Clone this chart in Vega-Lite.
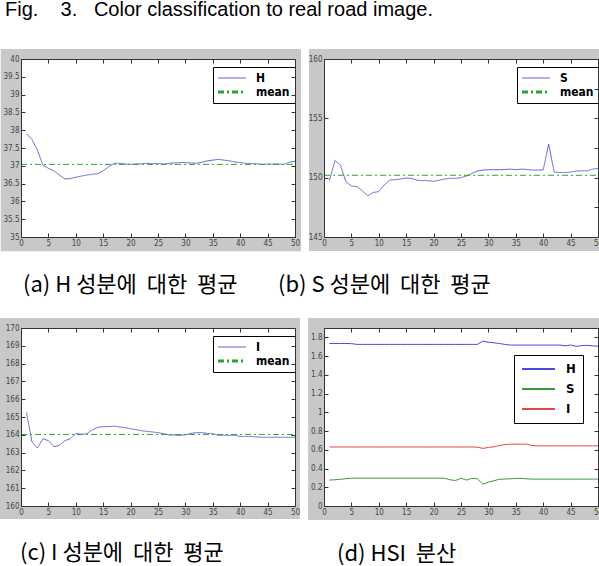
{
"$schema": "https://vega.github.io/schema/vega-lite/v6.json",
"padding": 0,
"background": "white",
"title": {"text": "Fig.\u00a0\u00a0\u00a0 3.\u00a0\u00a0 Color classification to real road image.", "anchor": "start", "frame": "bounds", "dx": 5, "offset": 29, "fontSize": 20, "font": "Liberation Sans", "fontWeight": "normal", "color": "black"},
"columns": 2,
"spacing": {"column": 29, "row": 91},
"bounds": "flush",
"resolve": {"scale": {"color": "independent", "strokeDash": "independent"}, "legend": {"color": "independent", "strokeDash": "independent"}},
"datasets": {
"a": [{"x":1,"H":37.9},{"x":2,"H":37.74},{"x":3,"H":37.44},{"x":4,"H":37.02},{"x":5,"H":36.93},{"x":6,"H":36.86},{"x":7,"H":36.74},{"x":8,"H":36.63},{"x":9,"H":36.64},{"x":10,"H":36.68},{"x":11,"H":36.71},{"x":12,"H":36.74},{"x":13,"H":36.76},{"x":14,"H":36.78},{"x":15,"H":36.86},{"x":16,"H":36.97},{"x":17,"H":37.07},{"x":18,"H":37.07},{"x":19,"H":37.05},{"x":20,"H":37.04},{"x":21,"H":37.05},{"x":22,"H":37.06},{"x":23,"H":37.07},{"x":24,"H":37.06},{"x":25,"H":37.06},{"x":26,"H":37.05},{"x":27,"H":37.07},{"x":28,"H":37.08},{"x":29,"H":37.09},{"x":30,"H":37.09},{"x":31,"H":37.08},{"x":32,"H":37.07},{"x":33,"H":37.1},{"x":34,"H":37.14},{"x":35,"H":37.16},{"x":36,"H":37.18},{"x":37,"H":37.16},{"x":38,"H":37.14},{"x":39,"H":37.11},{"x":40,"H":37.09},{"x":41,"H":37.07},{"x":42,"H":37.06},{"x":43,"H":37.06},{"x":44,"H":37.04},{"x":45,"H":37.05},{"x":46,"H":37.05},{"x":47,"H":37.05},{"x":48,"H":37.04},{"x":49,"H":37.1},{"x":50,"H":37.13},{"x":0,"mean":37.04},{"x":50,"mean":37.04}],
"b": [{"x":1,"S":149.8},{"x":2,"S":151.44},{"x":3,"S":151.06},{"x":4,"S":149.67},{"x":5,"S":149.3},{"x":6,"S":149.25},{"x":7,"S":148.89},{"x":8,"S":148.47},{"x":9,"S":148.75},{"x":10,"S":148.83},{"x":11,"S":149.39},{"x":12,"S":149.8},{"x":13,"S":149.83},{"x":14,"S":149.89},{"x":15,"S":149.97},{"x":16,"S":149.94},{"x":17,"S":149.78},{"x":18,"S":149.75},{"x":19,"S":149.75},{"x":20,"S":149.69},{"x":21,"S":149.78},{"x":22,"S":149.89},{"x":23,"S":149.94},{"x":24,"S":149.94},{"x":25,"S":150.0},{"x":26,"S":150.14},{"x":27,"S":150.36},{"x":28,"S":150.56},{"x":29,"S":150.64},{"x":30,"S":150.67},{"x":31,"S":150.67},{"x":32,"S":150.67},{"x":33,"S":150.69},{"x":34,"S":150.72},{"x":35,"S":150.67},{"x":36,"S":150.72},{"x":37,"S":150.69},{"x":38,"S":150.64},{"x":39,"S":150.64},{"x":40,"S":150.64},{"x":41,"S":152.83},{"x":42,"S":150.47},{"x":43,"S":150.44},{"x":44,"S":150.44},{"x":45,"S":150.47},{"x":46,"S":150.56},{"x":47,"S":150.58},{"x":48,"S":150.58},{"x":49,"S":150.72},{"x":50,"S":150.78},{"x":0,"mean":150.2},{"x":50,"mean":150.2}],
"c": [{"x":1,"I":165.25},{"x":2,"I":163.6},{"x":3,"I":163.26},{"x":4,"I":163.78},{"x":5,"I":163.67},{"x":6,"I":163.33},{"x":7,"I":163.41},{"x":8,"I":163.67},{"x":9,"I":163.78},{"x":10,"I":164.08},{"x":11,"I":164.03},{"x":12,"I":164.06},{"x":13,"I":164.27},{"x":14,"I":164.42},{"x":15,"I":164.46},{"x":16,"I":164.46},{"x":17,"I":164.49},{"x":18,"I":164.44},{"x":19,"I":164.4},{"x":20,"I":164.34},{"x":21,"I":164.29},{"x":22,"I":164.23},{"x":23,"I":164.19},{"x":24,"I":164.16},{"x":25,"I":164.12},{"x":26,"I":164.06},{"x":27,"I":163.99},{"x":28,"I":163.99},{"x":29,"I":163.97},{"x":30,"I":164.0},{"x":31,"I":164.08},{"x":32,"I":164.12},{"x":33,"I":164.12},{"x":34,"I":164.08},{"x":35,"I":164.06},{"x":36,"I":163.97},{"x":37,"I":163.97},{"x":38,"I":163.97},{"x":39,"I":163.97},{"x":40,"I":163.91},{"x":41,"I":163.91},{"x":42,"I":163.91},{"x":43,"I":163.88},{"x":44,"I":163.86},{"x":45,"I":163.86},{"x":46,"I":163.86},{"x":47,"I":163.86},{"x":48,"I":163.86},{"x":49,"I":163.86},{"x":50,"I":163.86},{"x":0,"mean":164.02},{"x":50,"mean":164.02}],
"d": [{"x":1,"H":1.735,"S":0.277,"I":0.63},{"x":2,"H":1.735,"S":0.28,"I":0.63},{"x":3,"H":1.735,"S":0.285,"I":0.63},{"x":4,"H":1.735,"S":0.292,"I":0.63},{"x":5,"H":1.733,"S":0.297,"I":0.63},{"x":6,"H":1.725,"S":0.297,"I":0.63},{"x":7,"H":1.725,"S":0.297,"I":0.63},{"x":8,"H":1.725,"S":0.297,"I":0.63},{"x":9,"H":1.725,"S":0.297,"I":0.63},{"x":10,"H":1.725,"S":0.297,"I":0.63},{"x":11,"H":1.725,"S":0.297,"I":0.63},{"x":12,"H":1.725,"S":0.297,"I":0.63},{"x":13,"H":1.725,"S":0.297,"I":0.63},{"x":14,"H":1.725,"S":0.297,"I":0.63},{"x":15,"H":1.725,"S":0.297,"I":0.63},{"x":16,"H":1.725,"S":0.297,"I":0.63},{"x":17,"H":1.725,"S":0.297,"I":0.63},{"x":18,"H":1.725,"S":0.297,"I":0.63},{"x":19,"H":1.725,"S":0.297,"I":0.63},{"x":20,"H":1.725,"S":0.297,"I":0.63},{"x":21,"H":1.725,"S":0.297,"I":0.63},{"x":22,"H":1.725,"S":0.297,"I":0.63},{"x":23,"H":1.725,"S":0.28,"I":0.63},{"x":24,"H":1.725,"S":0.272,"I":0.63},{"x":25,"H":1.725,"S":0.297,"I":0.63},{"x":26,"H":1.725,"S":0.277,"I":0.63},{"x":27,"H":1.725,"S":0.295,"I":0.63},{"x":28,"H":1.725,"S":0.29,"I":0.628},{"x":29,"H":1.76,"S":0.232,"I":0.615},{"x":30,"H":1.748,"S":0.255,"I":0.625},{"x":31,"H":1.742,"S":0.27,"I":0.632},{"x":32,"H":1.735,"S":0.285,"I":0.645},{"x":33,"H":1.725,"S":0.288,"I":0.655},{"x":34,"H":1.718,"S":0.29,"I":0.66},{"x":35,"H":1.718,"S":0.295,"I":0.66},{"x":36,"H":1.718,"S":0.295,"I":0.66},{"x":37,"H":1.718,"S":0.29,"I":0.66},{"x":38,"H":1.718,"S":0.287,"I":0.645},{"x":39,"H":1.718,"S":0.287,"I":0.642},{"x":40,"H":1.718,"S":0.287,"I":0.642},{"x":41,"H":1.718,"S":0.287,"I":0.642},{"x":42,"H":1.718,"S":0.287,"I":0.642},{"x":43,"H":1.718,"S":0.287,"I":0.642},{"x":44,"H":1.71,"S":0.287,"I":0.642},{"x":45,"H":1.718,"S":0.287,"I":0.642},{"x":46,"H":1.705,"S":0.287,"I":0.642},{"x":47,"H":1.712,"S":0.287,"I":0.642},{"x":48,"H":1.715,"S":0.287,"I":0.642},{"x":49,"H":1.71,"S":0.287,"I":0.642},{"x":50,"H":1.705,"S":0.287,"I":0.642}]
},
"concat": [
{
 "width": 274, "height": 178,
 "title": {"text": "(a) H 성분에\u00a0 대한\u00a0 평균", "orient": "bottom", "anchor": "start", "frame": "group", "dx": 2, "offset": 24},
 "resolve": {"axis": {"x": "independent", "y": "independent"}},
 "layer": [
  {"data": {"values": [{}]}, "mark": {"type": "rect", "clip": false, "color": "#c8c8c8"},
   "encoding": {"x": {"datum": -3.7, "type": "quantitative", "scale": {"domain": [0, 50], "nice": false, "zero": false}, "axis": null}, "x2": {"datum": 51.1},
    "y": {"datum": 40.28, "type": "quantitative", "scale": {"domain": [35, 40], "nice": false, "zero": false}, "axis": null}, "y2": {"datum": 34.6}}},
  {"data": {"values": [{}]}, "mark": {"type": "rect", "color": "white"},
   "encoding": {"x": {"datum": 0, "type": "quantitative", "axis": {"orient": "top", "labels": false, "zindex": 2, "values": [0,5,10,15,20,25,30,35,40,45,50], "title": null}}, "x2": {"datum": 50},
    "y": {"datum": 40, "type": "quantitative", "axis": {"orient": "right", "labels": false, "zindex": 2, "values": [35,35.5,36,36.5,37,37.5,38,38.5,39,39.5,40], "title": null}}, "y2": {"datum": 35}}},
  {"data": {"name": "a"}, "transform": [{"fold": ["H", "mean"], "as": ["s", "v"]}, {"filter": "isValid(datum.v)"}],
   "mark": {"type": "line", "strokeWidth": 1},
   "encoding": {"x": {"field": "x", "type": "quantitative", "axis": {"orient": "bottom", "zindex": 2, "values": [0,5,10,15,20,25,30,35,40,45,50], "format": "~g", "title": null}},
    "y": {"field": "v", "type": "quantitative", "axis": {"orient": "left", "zindex": 2, "values": [35,35.5,36,36.5,37,37.5,38,38.5,39,39.5,40], "format": "~g", "title": null}},
    "color": {"field": "s", "type": "nominal", "scale": {"domain": ["H", "mean"], "range": ["#6262d4", "#2aa82a"]},
      "legend": {"title": null, "orient": "none", "legendX": 192, "legendY": 8, "fillColor": "white", "strokeColor": "black", "padding": 5, "symbolType": "M-1,0H3.667", "symbolSize": 144, "symbolStrokeWidth": 1.2, "labelOffset": 26, "rowPadding": 2, "labelFont": "DejaVu Sans Condensed, Liberation Sans, sans-serif", "labelFontWeight": "bold", "labelFontSize": 12, "labelColor": "black", "encode": {"symbols": {"update": {"strokeWidth": {"signal": "datum.value === 'mean' ? 3 : 1.2"}}}}}},
    "strokeDash": {"field": "s", "type": "nominal", "scale": {"domain": ["H", "mean"], "range": [[1, 0], [6, 3, 2, 3]]},
      "legend": {"title": null, "orient": "none", "legendX": 192, "legendY": 8, "fillColor": "white", "strokeColor": "black", "padding": 5, "symbolType": "M-1,0H3.667", "symbolSize": 144, "symbolStrokeWidth": 1.2, "labelOffset": 26, "rowPadding": 2, "labelFont": "DejaVu Sans Condensed, Liberation Sans, sans-serif", "labelFontWeight": "bold", "labelFontSize": 12, "labelColor": "black", "encode": {"symbols": {"update": {"strokeWidth": {"signal": "datum.value === 'mean' ? 3 : 1.2"}}}}}}}}
 ]
},
{
 "width": 274, "height": 178,
 "title": {"text": "(b) S 성분에\u00a0 대한\u00a0 평균", "orient": "bottom", "anchor": "start", "frame": "group", "dx": -46, "offset": 24},
 "resolve": {"axis": {"x": "independent", "y": "independent"}},
 "layer": [
  {"data": {"values": [{}]}, "mark": {"type": "rect", "clip": false, "color": "#c8c8c8"},
   "encoding": {"x": {"datum": -2.75, "type": "quantitative", "scale": {"domain": [0, 50], "nice": false, "zero": false}, "axis": null}, "x2": {"datum": 50.55},
    "y": {"datum": 160.84, "type": "quantitative", "scale": {"domain": [145, 160], "nice": false, "zero": false}, "axis": null}, "y2": {"datum": 143.82}}},
  {"data": {"values": [{}]}, "mark": {"type": "rect", "color": "white"},
   "encoding": {"x": {"datum": 0, "type": "quantitative", "axis": {"orient": "top", "labels": false, "zindex": 2, "values": [0,5,10,15,20,25,30,35,40,45,50], "title": null}}, "x2": {"datum": 50},
    "y": {"datum": 160, "type": "quantitative", "axis": {"orient": "right", "labels": false, "zindex": 2, "values": [145,147.5,150,152.5,155,157.5,160], "title": null}}, "y2": {"datum": 145}}},
  {"data": {"name": "b"}, "transform": [{"fold": ["S", "mean"], "as": ["s", "v"]}, {"filter": "isValid(datum.v)"}],
   "mark": {"type": "line", "strokeWidth": 1},
   "encoding": {"x": {"field": "x", "type": "quantitative", "axis": {"orient": "bottom", "zindex": 2, "values": [0,5,10,15,20,25,30,35,40,45,50], "format": "~g", "title": null}},
    "y": {"field": "v", "type": "quantitative", "axis": {"orient": "left", "zindex": 2, "values": [145,150,155,160], "format": "~g", "title": null}},
    "color": {"field": "s", "type": "nominal", "scale": {"domain": ["S", "mean"], "range": ["#6262d4", "#2aa82a"]},
      "legend": {"title": null, "orient": "none", "legendX": 193, "legendY": 8, "fillColor": "white", "strokeColor": "black", "padding": 5, "symbolType": "M-1,0H3.667", "symbolSize": 144, "symbolStrokeWidth": 1.2, "labelOffset": 26, "rowPadding": 2, "labelFont": "DejaVu Sans Condensed, Liberation Sans, sans-serif", "labelFontWeight": "bold", "labelFontSize": 12, "labelColor": "black", "encode": {"symbols": {"update": {"strokeWidth": {"signal": "datum.value === 'mean' ? 3 : 1.2"}}}}}},
    "strokeDash": {"field": "s", "type": "nominal", "scale": {"domain": ["S", "mean"], "range": [[1, 0], [6, 3, 2, 3]]},
      "legend": {"title": null, "orient": "none", "legendX": 193, "legendY": 8, "fillColor": "white", "strokeColor": "black", "padding": 5, "symbolType": "M-1,0H3.667", "symbolSize": 144, "symbolStrokeWidth": 1.2, "labelOffset": 26, "rowPadding": 2, "labelFont": "DejaVu Sans Condensed, Liberation Sans, sans-serif", "labelFontWeight": "bold", "labelFontSize": 12, "labelColor": "black", "encode": {"symbols": {"update": {"strokeWidth": {"signal": "datum.value === 'mean' ? 3 : 1.2"}}}}}}}}
 ]
},
{
 "width": 274, "height": 178,
 "title": {"text": "(c) I 성분에\u00a0 대한\u00a0 평균", "orient": "bottom", "anchor": "start", "frame": "group", "dx": -1, "offset": 24},
 "resolve": {"axis": {"x": "independent", "y": "independent"}},
 "layer": [
  {"data": {"values": [{}]}, "mark": {"type": "rect", "clip": false, "color": "#c8c8c8"},
   "encoding": {"x": {"datum": -3.83, "type": "quantitative", "scale": {"domain": [0, 50], "nice": false, "zero": false}, "axis": null}, "x2": {"datum": 50.9},
    "y": {"datum": 170.56, "type": "quantitative", "scale": {"domain": [160, 170], "nice": false, "zero": false}, "axis": null}, "y2": {"datum": 159.27}}},
  {"data": {"values": [{}]}, "mark": {"type": "rect", "color": "white"},
   "encoding": {"x": {"datum": 0, "type": "quantitative", "axis": {"orient": "top", "labels": false, "zindex": 2, "values": [0,5,10,15,20,25,30,35,40,45,50], "title": null}}, "x2": {"datum": 50},
    "y": {"datum": 170, "type": "quantitative", "axis": {"orient": "right", "labels": false, "zindex": 2, "values": [160,161,162,163,164,165,166,167,168,169,170], "title": null}}, "y2": {"datum": 160}}},
  {"data": {"name": "c"}, "transform": [{"fold": ["I", "mean"], "as": ["s", "v"]}, {"filter": "isValid(datum.v)"}],
   "mark": {"type": "line", "strokeWidth": 1},
   "encoding": {"x": {"field": "x", "type": "quantitative", "axis": {"orient": "bottom", "zindex": 2, "values": [0,5,10,15,20,25,30,35,40,45,50], "format": "~g", "title": null}},
    "y": {"field": "v", "type": "quantitative", "axis": {"orient": "left", "zindex": 2, "values": [160,161,162,163,164,165,166,167,168,169,170], "format": "~g", "title": null}},
    "color": {"field": "s", "type": "nominal", "scale": {"domain": ["I", "mean"], "range": ["#6262d4", "#2aa82a"]},
      "legend": {"title": null, "orient": "none", "legendX": 192, "legendY": 8, "fillColor": "white", "strokeColor": "black", "padding": 5, "symbolType": "M-1,0H3.667", "symbolSize": 144, "symbolStrokeWidth": 1.2, "labelOffset": 26, "rowPadding": 2, "labelFont": "DejaVu Sans Condensed, Liberation Sans, sans-serif", "labelFontWeight": "bold", "labelFontSize": 12, "labelColor": "black", "encode": {"symbols": {"update": {"strokeWidth": {"signal": "datum.value === 'mean' ? 3 : 1.2"}}}}}},
    "strokeDash": {"field": "s", "type": "nominal", "scale": {"domain": ["I", "mean"], "range": [[1, 0], [6, 3, 2, 3]]},
      "legend": {"title": null, "orient": "none", "legendX": 192, "legendY": 8, "fillColor": "white", "strokeColor": "black", "padding": 5, "symbolType": "M-1,0H3.667", "symbolSize": 144, "symbolStrokeWidth": 1.2, "labelOffset": 26, "rowPadding": 2, "labelFont": "DejaVu Sans Condensed, Liberation Sans, sans-serif", "labelFontWeight": "bold", "labelFontSize": 12, "labelColor": "black", "encode": {"symbols": {"update": {"strokeWidth": {"signal": "datum.value === 'mean' ? 3 : 1.2"}}}}}}}}
 ]
},
{
 "width": 274, "height": 178,
 "title": {"text": "(d) HSI\u00a0 분산", "orient": "bottom", "anchor": "start", "frame": "group", "dx": 13, "offset": 24},
 "resolve": {"axis": {"x": "independent", "y": "independent"}},
 "layer": [
  {"data": {"values": [{}]}, "mark": {"type": "rect", "clip": false, "color": "#c8c8c8"},
   "encoding": {"x": {"datum": -2.9, "type": "quantitative", "scale": {"domain": [0, 50], "nice": false, "zero": false}, "axis": null}, "x2": {"datum": 50.55},
    "y": {"datum": 2.007, "type": "quantitative", "scale": {"domain": [0, 1.9], "nice": false, "zero": false}, "axis": null}, "y2": {"datum": -0.149}}},
  {"data": {"values": [{}]}, "mark": {"type": "rect", "color": "white"},
   "encoding": {"x": {"datum": 0, "type": "quantitative", "axis": {"orient": "top", "labels": false, "zindex": 2, "values": [0,5,10,15,20,25,30,35,40,45,50], "title": null}}, "x2": {"datum": 50},
    "y": {"datum": 1.9, "type": "quantitative", "axis": {"orient": "right", "labels": false, "zindex": 2, "values": [0,0.2,0.4,0.6,0.8,1,1.2,1.4,1.6,1.8], "title": null}}, "y2": {"datum": 0}}},
  {"data": {"name": "d"}, "transform": [{"fold": ["H", "S", "I"], "as": ["s", "v"]}],
   "mark": {"type": "line", "strokeWidth": 1},
   "encoding": {"x": {"field": "x", "type": "quantitative", "axis": {"orient": "bottom", "zindex": 2, "values": [0,5,10,15,20,25,30,35,40,45,50], "format": "~g", "title": null}},
    "y": {"field": "v", "type": "quantitative", "axis": {"orient": "left", "zindex": 2, "values": [0,0.2,0.4,0.6,0.8,1,1.2,1.4,1.6,1.8], "format": "~g", "title": null}},
    "color": {"field": "s", "type": "nominal", "scale": {"domain": ["H", "S", "I"], "range": ["#4a4ae0", "#3a9a3a", "#e04848"]},
      "legend": {"title": null, "orient": "none", "legendX": 190, "legendY": 27, "fillColor": "white", "strokeColor": "black", "padding": 7, "symbolType": "M-1,0H4.5", "symbolSize": 144, "symbolStrokeWidth": 2, "labelOffset": 31, "rowPadding": 6, "labelFont": "DejaVu Sans Condensed, Liberation Sans, sans-serif", "labelFontWeight": "bold", "labelFontSize": 13, "labelColor": "black"}}}}
 ]
}
],
"config": {
 "view": {"stroke": null},
 "title": {"font": "Noto Sans CJK KR", "fontSize": 22, "fontWeight": "normal", "color": "black"},
 "axis": {"grid": false, "labelFont": "DejaVu Sans Condensed, Liberation Sans, sans-serif", "labelFontSize": 8, "labelColor": "#444", "domainColor": "#333", "tickColor": "#333", "tickSize": -4, "labelPadding": 6, "labelFlush": false, "labelOverlap": false}
}
}
